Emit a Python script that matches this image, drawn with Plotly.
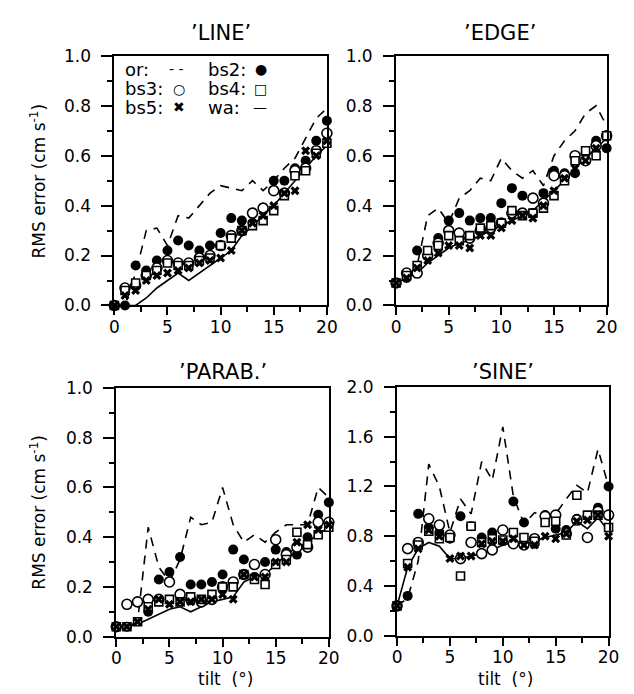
import plotly.graph_objects as go

tilt = list(range(21))
panel_titles = ["’LINE’", "’EDGE’", "’PARAB.’", "’SINE’"]
x_ticks = [0, 5, 10, 15, 20]

# ---- 'LINE'
line_or = [0, 0, 0.13, 0.30, 0.31, 0.24, 0.36, 0.35, 0.40, 0.45, 0.48, 0.47, 0.46, 0.50, 0.46, 0.50, 0.55, 0.59, 0.67, 0.75, 0.79]
line_bs2 = [0, 0, 0.16, 0.14, 0.18, 0.22, 0.26, 0.24, 0.22, 0.24, 0.29, 0.35, 0.34, 0.33, 0.39, 0.50, 0.50, 0.55, 0.58, 0.66, 0.74]
line_bs3 = [0, 0.07, 0.08, 0.12, 0.15, 0.18, 0.17, 0.17, 0.19, 0.20, 0.24, 0.28, 0.30, 0.37, 0.39, 0.46, 0.45, 0.54, 0.55, 0.62, 0.69]
line_bs4 = [0, 0.06, 0.09, 0.12, 0.14, 0.17, 0.16, 0.16, 0.18, 0.19, 0.24, 0.27, 0.30, 0.32, 0.34, 0.38, 0.44, 0.52, 0.54, 0.61, 0.65]
line_bs5 = [0, 0.04, 0.06, 0.10, 0.12, 0.13, 0.14, 0.15, 0.17, 0.18, 0.19, 0.22, 0.30, 0.33, 0.36, 0.40, 0.45, 0.46, 0.62, 0.60, 0.66]
line_wa = [0, 0, 0, 0.03, 0.07, 0.10, 0.13, 0.10, 0.13, 0.16, 0.19, 0.22, 0.28, 0.32, 0.36, 0.40, 0.45, 0.50, 0.55, 0.60, 0.64]

# ---- 'EDGE'
edge_or = [0.09, 0.11, 0.16, 0.36, 0.39, 0.33, 0.43, 0.46, 0.51, 0.50, 0.59, 0.54, 0.51, 0.54, 0.48, 0.60, 0.66, 0.70, 0.77, 0.80, 0.72]
edge_bs2 = [0.09, 0.11, 0.22, 0.20, 0.27, 0.34, 0.37, 0.34, 0.35, 0.35, 0.41, 0.47, 0.44, 0.37, 0.45, 0.54, 0.53, 0.53, 0.61, 0.66, 0.63]
edge_bs3 = [0.09, 0.13, 0.13, 0.20, 0.25, 0.30, 0.29, 0.27, 0.30, 0.31, 0.33, 0.37, 0.37, 0.43, 0.41, 0.52, 0.52, 0.60, 0.58, 0.64, 0.68]
edge_bs4 = [0.09, 0.12, 0.16, 0.22, 0.24, 0.28, 0.26, 0.28, 0.31, 0.32, 0.33, 0.38, 0.36, 0.37, 0.39, 0.44, 0.50, 0.58, 0.62, 0.60, 0.68]
edge_bs5 = [0.09, 0.11, 0.15, 0.18, 0.21, 0.24, 0.24, 0.23, 0.28, 0.28, 0.31, 0.34, 0.36, 0.35, 0.40, 0.46, 0.51, 0.55, 0.58, 0.63, 0.63]
edge_wa = [0.09, 0.11, 0.13, 0.17, 0.20, 0.23, 0.25, 0.26, 0.28, 0.30, 0.32, 0.34, 0.36, 0.38, 0.42, 0.46, 0.50, 0.55, 0.59, 0.63, 0.67]

# ---- 'PARAB.'
parab_or = [0.04, 0.04, 0.06, 0.44, 0.28, 0.22, 0.31, 0.48, 0.45, 0.46, 0.60, 0.45, 0.38, 0.41, 0.38, 0.42, 0.45, 0.45, 0.45, 0.60, 0.56]
parab_bs2 = [0.04, 0.04, 0.14, 0.10, 0.23, 0.26, 0.32, 0.21, 0.21, 0.22, 0.25, 0.35, 0.31, 0.24, 0.30, 0.35, 0.34, 0.33, 0.40, 0.49, 0.54]
parab_bs3 = [0.04, 0.13, 0.14, 0.15, 0.15, 0.22, 0.17, 0.15, 0.14, 0.15, 0.20, 0.22, 0.25, 0.29, 0.25, 0.39, 0.33, 0.36, 0.36, 0.46, 0.46]
parab_bs4 = [0.04, 0.04, 0.06, 0.12, 0.14, 0.15, 0.14, 0.16, 0.15, 0.17, 0.20, 0.20, 0.25, 0.23, 0.21, 0.29, 0.31, 0.42, 0.37, 0.41, 0.44]
parab_bs5 = [0.04, 0.04, 0.06, 0.11, 0.15, 0.13, 0.14, 0.14, 0.15, 0.15, 0.17, 0.15, 0.25, 0.24, 0.24, 0.30, 0.30, 0.38, 0.45, 0.43, 0.45]
parab_wa = [0.04, 0.04, 0.05, 0.07, 0.09, 0.11, 0.12, 0.10, 0.12, 0.14, 0.15, 0.16, 0.22, 0.24, 0.25, 0.29, 0.33, 0.36, 0.38, 0.41, 0.44]

# ---- 'SINE'
sine_or = [0.24, 0.30, 0.60, 1.38, 1.20, 0.83, 1.10, 0.98, 1.40, 1.25, 1.68, 1.12, 0.90, 0.99, 0.96, 0.98, 1.10, 1.21, 1.15, 1.50, 1.20]
sine_bs2 = [0.24, 0.32, 0.98, 0.87, 0.83, 0.78, 0.96, 0.88, 0.79, 0.83, 0.76, 1.08, 0.91, 0.74, 0.97, 0.86, 0.85, 0.94, 0.96, 1.03, 1.20]
sine_bs3 = [0.24, 0.70, 0.75, 0.94, 0.89, 0.81, 0.62, 0.75, 0.66, 0.69, 0.85, 0.74, 0.73, 0.78, 0.96, 0.97, 0.82, 0.93, 0.79, 1.00, 0.97]
sine_bs4 = [0.24, 0.58, 0.73, 0.84, 0.78, 0.79, 0.48, 0.88, 0.75, 0.78, 0.77, 0.83, 0.79, 0.76, 0.91, 0.92, 0.81, 1.13, 0.97, 0.97, 0.87]
sine_bs5 = [0.24, 0.55, 0.70, 0.85, 0.80, 0.62, 0.64, 0.64, 0.74, 0.76, 0.76, 0.78, 0.73, 0.73, 0.80, 0.78, 0.82, 0.92, 0.93, 0.97, 0.80]
sine_wa = [0.24, 0.55, 0.70, 0.75, 0.72, 0.62, 0.62, 0.64, 0.66, 0.69, 0.73, 0.75, 0.74, 0.76, 0.79, 0.81, 0.83, 0.92, 0.86, 0.95, 0.84]

panels = [
    (line_or, line_wa, line_bs2, line_bs3, line_bs4, line_bs5),
    (edge_or, edge_wa, edge_bs2, edge_bs3, edge_bs4, edge_bs5),
    (parab_or, parab_wa, parab_bs2, parab_bs3, parab_bs4, parab_bs5),
    (sine_or, sine_wa, sine_bs2, sine_bs3, sine_bs4, sine_bs5),
]
y_ranges = [[0, 1.0], [0, 1.0], [0, 1.0], [0, 2.0]]
y_dticks = [0.2, 0.2, 0.2, 0.4]

W, H = 634, 694
xdoms = [[104 / W, 322 / W], [393 / W, 609 / W], [106 / W, 324 / W], [394 / W, 611 / W]]
ydoms = [[1 - 296 / H, 1 - 39 / H], [1 - 296 / H, 1 - 39 / H],
         [1 - 637 / H, 1 - 381 / H], [1 - 636 / H, 1 - 380 / H]]

FONT = "DejaVu Sans"
fig = go.Figure()

for i, (s_or, s_wa, s_bs2, s_bs3, s_bs4, s_bs5) in enumerate(panels):
    xa = "x" if i == 0 else f"x{i+1}"
    ya = "y" if i == 0 else f"y{i+1}"
    common = dict(x=tilt, xaxis=xa, yaxis=ya, showlegend=False, cliponaxis=False)
    fig.add_trace(go.Scatter(y=s_or, mode="lines", name="or",
                             line=dict(color="black", width=1.6, dash="9px,7px"), **common))
    fig.add_trace(go.Scatter(y=s_wa, mode="lines", name="wa",
                             line=dict(color="black", width=1.6), **common))
    fig.add_trace(go.Scatter(y=s_bs2, mode="markers", name="bs2",
                             marker=dict(symbol="circle", size=10, color="black"), **common))
    fig.add_trace(go.Scatter(y=s_bs3, mode="markers", name="bs3",
                             marker=dict(symbol="circle", size=10, color="white",
                                         line=dict(color="black", width=1.6)), **common))
    fig.add_trace(go.Scatter(y=s_bs4, mode="markers", name="bs4",
                             marker=dict(symbol="square", size=8, color="white",
                                         line=dict(color="black", width=1.6)), **common))
    fig.add_trace(go.Scatter(y=s_bs5, mode="markers", name="bs5",
                             marker=dict(symbol="x", size=8, color="black",
                                         line=dict(width=0)), **common))

    axis_font = dict(family=FONT, size=17, color="black")
    xkey = "xaxis" if i == 0 else f"xaxis{i+1}"
    ykey = "yaxis" if i == 0 else f"yaxis{i+1}"
    fig.update_layout({
        xkey: dict(domain=xdoms[i], anchor=ya, range=[0, 20], tickvals=x_ticks,
                   ticks="outside", ticklen=8, tickwidth=1.5, tickcolor="black",
                   minor=dict(dtick=2.5, tick0=0, ticks="outside", ticklen=5, tickwidth=1.5, tickcolor="black"),
                   showline=True, linewidth=2, linecolor="black", mirror=True,
                   showgrid=False, zeroline=False, tickfont=axis_font,
                   ticklabelstandoff=-3),
        ykey: dict(domain=ydoms[i], anchor=xa, range=y_ranges[i], dtick=y_dticks[i],
                   tickformat=".1f",
                   ticks="outside", ticklen=11, tickwidth=1.5, tickcolor="black",
                   minor=dict(dtick=y_dticks[i] / 2, ticks="outside", ticklen=5, tickwidth=1.5, tickcolor="black"),
                   showline=True, linewidth=2, linecolor="black", mirror=True,
                   showgrid=False, zeroline=False, tickfont=axis_font,
                   ticklabelstandoff=7),
    })

annotations = []
title_pos = [(213, 15), (500, 15), (215, 364), (503, 364)]
for t, (px, py) in zip(panel_titles, title_pos):
    annotations.append(dict(text=t, x=px / W, y=1 - py / H, xref="paper", yref="paper",
                            showarrow=False, xanchor="center", yanchor="middle",
                            font=dict(family=FONT, size=21, color="black")))

ytitle = "RMS error (cm s<sup>-1</sup>)"
for py in [168, 509]:
    annotations.append(dict(text=ytitle, x=26 / W, y=1 - py / H, xref="paper", yref="paper",
                            showarrow=False, textangle=-90, xanchor="center", yanchor="middle",
                            font=dict(family=FONT, size=17, color="black")))
for px in [218, 505]:
    annotations.append(dict(text="tilt  (°)", x=px / W, y=1 - 681 / H, xref="paper", yref="paper",
                            showarrow=False, xanchor="center", yanchor="middle",
                            font=dict(family=FONT, size=17, color="black")))

# key (legend) written inside the 'LINE' panel
key_labels = [("or:", 113, 53), ("bs3:", 113, 73), ("bs5:", 113, 92),
              ("bs2:", 198, 53), ("bs4:", 198, 73), ("wa:", 198, 92)]
key_symbols = [("- -", 168, 53), ("○", 170, 73), ("✖", 170, 92),
               ("●", 254, 53), ("□", 254, 73), ("—", 253, 92)]
for t, px, py in key_labels:
    annotations.append(dict(text=t, x=px / W, y=1 - py / H, xref="paper", yref="paper",
                            showarrow=False, xanchor="left", yanchor="middle",
                            font=dict(family=FONT, size=18, color="black")))
for t, px, py in key_symbols:
    annotations.append(dict(text=t, x=px / W, y=1 - py / H, xref="paper", yref="paper",
                            showarrow=False, xanchor="center", yanchor="middle",
                            font=dict(family=FONT, size=14, color="black")))

fig.update_layout(
    width=W, height=H, autosize=False,
    margin=dict(l=0, r=0, t=0, b=0),
    paper_bgcolor="white", plot_bgcolor="white",
    showlegend=False,
    annotations=annotations,
)

fig.write_html("out.html")
